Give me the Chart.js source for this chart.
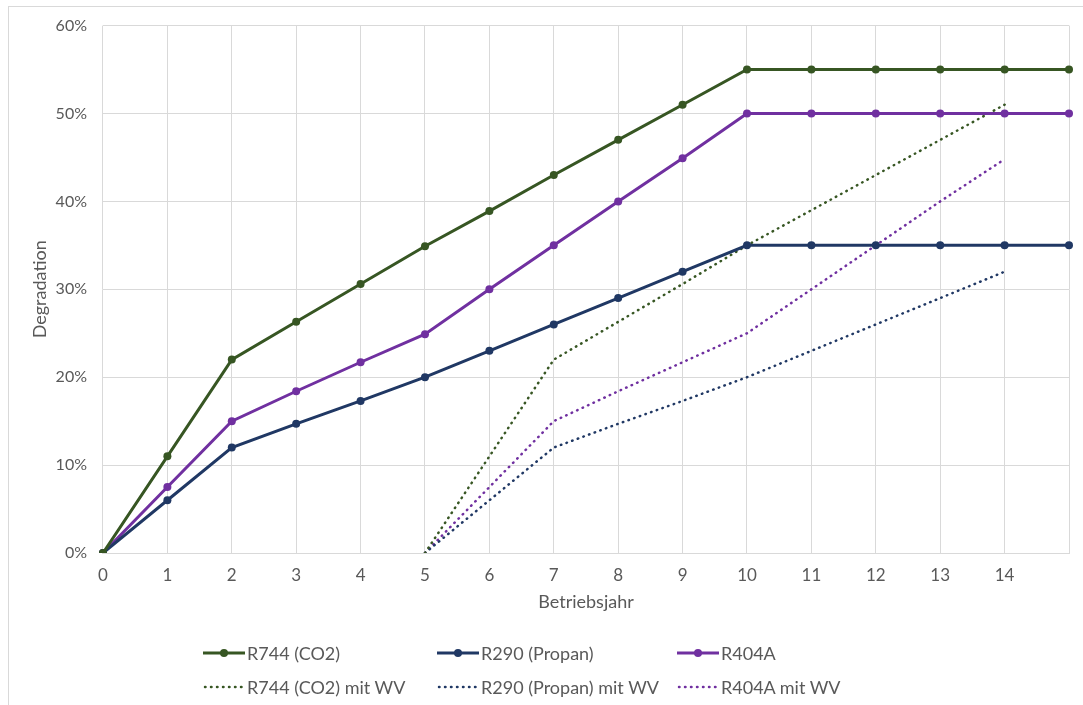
<!DOCTYPE html>
<html>
<head>
  <meta charset="utf-8">
  <title>Degradation</title>
  <script src="https://cdn.jsdelivr.net/npm/chart.js"></script>
  <style>
    body { margin: 0; background: #fff; font-family: Lato, "Noto Sans", sans-serif; }
    #wrap { position: relative; width: 1083px; height: 705px; overflow: hidden; }
    #frame { position: absolute; left: 8px; top: 6px; width: 1090px; height: 710px;
             border-left: 1px solid #d9d9d9; border-top: 1px solid #d9d9d9; }
    #chart { position: absolute; left: 0; top: 0; }
    #legend { position: absolute; left: 0; top: 0; width: 1083px; height: 705px; pointer-events: none; }
    .item { position: absolute; display: flex; align-items: center; font-size: 18px; color: #595959; white-space: nowrap; }
    .item svg { margin-right: 2px; }
  </style>
</head>
<body>
<div id="wrap">
  <div id="frame"></div>
  <canvas id="chart" width="1083" height="705"></canvas>
  <div id="legend"></div>
</div>
<script>
// Betriebsjahr 0..15 (15 has no label)
const years = ['0','1','2','3','4','5','6','7','8','9','10','11','12','13','14',''];

const r744   = [0, 11, 22, 26.3, 30.6, 34.9, 38.9, 43, 47, 51, 55, 55, 55, 55, 55, 55];
const r290   = [0, 6, 12, 14.7, 17.3, 20, 23, 26, 29, 32, 35, 35, 35, 35, 35, 35];
const r404a  = [0, 7.5, 15, 18.4, 21.7, 24.9, 30, 35, 40, 44.9, 50, 50, 50, 50, 50, 50];

const r744wv  = [null, null, null, null, null, 0, 11, 22, 26.3, 30.6, 35, 39, 43, 47, 51, null];
const r290wv  = [null, null, null, null, null, 0, 6, 12, 14.7, 17.3, 20, 23, 26, 29, 32, null];
const r404awv = [null, null, null, null, null, 0, 7.5, 15, 18.4, 21.7, 25, 30, 35, 40, 44.8, null];

const green = '#375623', navy = '#203864', purple = '#7030A0';
const grey = '#595959', grid = '#d9d9d9';

function solid(label, data, color) {
  return { label, data, borderColor: color, backgroundColor: color, borderWidth: 3,
           pointRadius: 4, pointHoverRadius: 4, pointBorderWidth: 0, tension: 0, order: 1 };
}
function dotted(label, data, color) {
  return { label, data, borderColor: color, backgroundColor: color, borderWidth: 2.5,
           borderDash: [0.5, 5.5], borderCapStyle: 'round', pointRadius: 0, tension: 0,
           spanGaps: false, order: 2 };
}

const datasets = [
  solid('R744 (CO2)', r744, green),
  solid('R290 (Propan)', r290, navy),
  solid('R404A', r404a, purple),
  dotted('R744 (CO2) mit WV', r744wv, green),
  dotted('R290 (Propan) mit WV', r290wv, navy),
  dotted('R404A mit WV', r404awv, purple)
];

new Chart(document.getElementById('chart'), {
  type: 'line',
  data: { labels: years, datasets },
  options: {
    responsive: false,
    animation: false,
    layout: { padding: { left: 18, right: 14, top: 17, bottom: 92 } },
    plugins: { legend: { display: false }, tooltip: { enabled: false } },
    scales: {
      x: {
        offset: false,
        grid: { color: grid, drawTicks: false },
        border: { color: grid },
        ticks: { color: grey, font: { family: 'Lato', size: 17 }, padding: 12, maxRotation: 0, autoSkip: false },
        title: { display: true, text: 'Betriebsjahr', color: grey, font: { family: 'Lato', size: 18 }, padding: { top: -6, bottom: 0 } }
      },
      y: {
        min: 0, max: 60,
        grid: { color: grid, drawTicks: false },
        border: { display: false },
        ticks: { stepSize: 10, color: grey, font: { family: 'Lato', size: 16 }, padding: 16,
                 callback: v => v + '%' },
        title: { display: true, text: 'Degradation', color: grey, font: { family: 'Lato', size: 18 }, padding: { top: 11, bottom: -11 } }
      }
    }
  }
});

// legend in 3 columns, 2 rows
const cols = [203, 437, 677];
const rows = [653, 687];
const legend = document.getElementById('legend');
datasets.forEach((ds, i) => {
  const el = document.createElement('div');
  el.className = 'item';
  el.style.left = cols[i % 3] + 'px';
  el.style.top = (rows[Math.floor(i / 3)] - 12) + 'px';
  el.style.height = '24px';
  const isDot = i >= 3;
  const svg = isDot
    ? `<svg width="42" height="10"><line x1="2" y1="5" x2="40" y2="5" stroke="${ds.borderColor}" stroke-width="2.5" stroke-linecap="round" stroke-dasharray="0.5 5.5"/></svg>`
    : `<svg width="42" height="10"><line x1="0" y1="5" x2="42" y2="5" stroke="${ds.borderColor}" stroke-width="3"/><circle cx="21" cy="5" r="4" fill="${ds.borderColor}"/></svg>`;
  el.innerHTML = svg + '<span>' + ds.label + '</span>';
  legend.appendChild(el);
});
</script>
</body>
</html>
